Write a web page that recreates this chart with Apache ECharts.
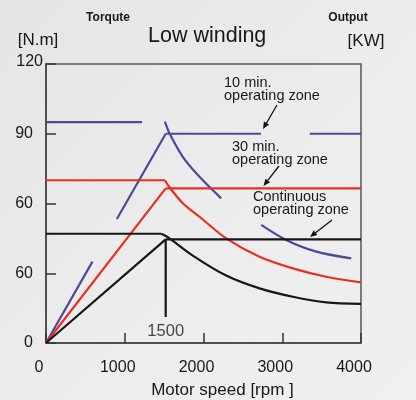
<!DOCTYPE html>
<html><head><meta charset="utf-8">
<script src="https://cdn.jsdelivr.net/npm/echarts@6/dist/echarts.min.js"></script>
<style>html,body{margin:0;padding:0;background:#ebebeb}#c{width:416px;height:400px}</style>
</head><body><div id="c"></div>
<script>
// ---- tick labels (as printed in the original, including its "60" at the 30 position)
const xTickLabels = ['0', '1000', '2000', '3000', '4000'];
const yTickLabels = ['0', '60', '60', '90', '120'];
const powerLabels = ['15kw', '11kw', '7.5kw'];
const speedMarkerLabel = '1500';

// ---- 10 min operating zone (blue)  [rpm, N.m]; null = gap in the drawn line
const blueLimitFlat = [[0, 95], [1220, 95]];
const blueRise = [[0, 0], [590, 35], null, [900, 53.3], [1520, 90]];
const blue15kw = [[1520, 90], [2730, 90], null, [3350, 90], [4000, 90]];
const blueFall = [[1510, 95.2], [1568, 90.2], [1737, 80.1], [1949, 71.5], [2225, 62.2], null,
                  [2733, 50.8], [3050, 44.3], [3431, 39.3], [3876, 36.4]];

// ---- 30 min operating zone (red)
const redLimitFlat = [[0, 70], [1510, 70]];
const redRise = [[0, 0], [1520, 66.5]];
const red11kw = [[1520, 66.5], [4000, 66.5]];
const redFall = [[1510, 70], [1568, 67], [1737, 60.1], [1949, 54.3], [2288, 45],
                 [2711, 37.1], [3134, 32.1], [3558, 28.5], [4000, 26.1]];

// ---- continuous operating zone (black)
const blackLimitFlat = [[0, 47], [1465, 47]];
const blackRise = [[0, 0], [1520, 44.6]];
const black7kw = [[1520, 44.6], [4000, 44.6]];
const blackFall = [[1465, 47], [1547, 45.5], [1864, 37.6], [2288, 29], [2711, 23.5], [3134, 19.9],
                   [3558, 17.5], [4000, 16.8]];
const speedMarker = [[1520, 44.6], [1520, 11.2]];

const BLUE = '#4a4a9c', RED = '#e8301f', BLACK = '#161616';
const FONT = 'Liberation Sans, Arial, sans-serif';
const INK = '#181818';

function split(pts) {
  const out = []; let cur = [];
  pts.forEach(p => { if (p === null) { if (cur.length) out.push(cur); cur = []; } else cur.push(p); });
  if (cur.length) out.push(cur);
  return out;
}
const series = [];
function addLine(pts, color, smooth, endLabel) {
  split(pts).forEach((seg, si, arr) => {
    const data = seg.map(p => ({ value: p }));
    if (endLabel && si === arr.length - 1) {
      data[data.length - 1].label = Object.assign({
        show: true, position: 'right', fontSize: 17, color: INK, fontFamily: FONT
      }, endLabel);
    }
    series.push({
      type: 'line', data, symbol: 'none', smooth: smooth ? 0.3 : false,
      lineStyle: { color, width: 2.2 }, silent: true, z: 3,
      label: { show: false }
    });
  });
}
addLine(blueLimitFlat, BLUE);
addLine(blueRise, BLUE);
addLine(blue15kw, BLUE, false, { formatter: powerLabels[0], distance: 7 });
addLine(blueFall, BLUE, true);
addLine(redLimitFlat, RED);
addLine(redRise, RED);
addLine(red11kw, RED, false, { formatter: powerLabels[1], distance: 7 });
addLine(redFall, RED, true);
addLine(blackLimitFlat, BLACK);
addLine(blackRise, BLACK);
addLine(black7kw, BLACK, false, { formatter: powerLabels[2], distance: 5, offset: [0, 2] });
addLine(blackFall, BLACK, true);
addLine(speedMarker, BLACK);
// "1500" label under the marker line
series.push({
  type: 'scatter', symbolSize: 1, itemStyle: { color: 'rgba(0,0,0,0)' }, silent: true,
  data: [{ value: speedMarker[1], label: { show: true, position: 'bottom', distance: 5,
    formatter: speedMarkerLabel, fontSize: 16.5, color: INK, fontFamily: FONT } }]
});

function arrow(x1, y1, x2, y2) {
  const a = Math.atan2(y2 - y1, x2 - x1), L = 7, W = 3;
  const bx = x2 - L * Math.cos(a), by = y2 - L * Math.sin(a);
  const px = -Math.sin(a) * W, py = Math.cos(a) * W;
  return [
    { type: 'line', shape: { x1, y1, x2: bx, y2: by }, style: { stroke: '#111', lineWidth: 1.3 }, z: 10 },
    { type: 'polygon', shape: { points: [[x2, y2], [bx + px, by + py], [bx - px, by - py]] },
      style: { fill: '#111' }, z: 10 }
  ];
}
function txt(text, x, y, size, opts) {
  return { type: 'text', x, y, z: 10, style: Object.assign({
    text, fill: INK, fontSize: size, fontFamily: FONT, align: 'left', verticalAlign: 'middle'
  }, opts || {}) };
}

const graphics = [
  txt('Torqute', 108, 18, 12, { fontWeight: 'bold', align: 'center' }),
  txt('Output', 348, 18, 12, { fontWeight: 'bold', align: 'center' }),
  txt('[N.m]', 38, 40, 17, { align: 'center' }),
  txt('[KW]', 366, 41, 17, { align: 'center' }),
  txt('10 min.\noperating zone', 224, 89, 14.5, { lineHeight: 13 }),
  txt('30 min.\noperating zone', 232, 153, 14.5, { lineHeight: 13 }),
  txt('Continuous\noperating zone', 253, 203, 14.5, { lineHeight: 13 }),
  ...arrow(277, 105, 263, 129),
  ...arrow(279, 166, 263.5, 186),
  ...arrow(332, 220, 310, 237)
];

const chart = echarts.init(document.getElementById('c'), null, { renderer: 'canvas' });
chart.setOption({
  backgroundColor: new echarts.graphic.LinearGradient(0, 0, 1, 1, [
    { offset: 0, color: '#e5e5e5' }, { offset: 0.5, color: '#ececec' }, { offset: 1, color: '#f0f0f0' }
  ]),
  animation: false,
  title: { text: 'Low winding', left: 143, top: 20,
    textStyle: { fontSize: 21.5, fontWeight: 'normal', color: INK, fontFamily: FONT } },
  grid: { left: 46, right: 55, top: 64, bottom: 57, show: true, borderColor: '#555', borderWidth: 1.5,
    backgroundColor: 'transparent', containLabel: false, outerBoundsMode: 'none' },
  xAxis: {
    type: 'value', min: 0, max: 4000, interval: 1000,
    axisLine: { show: true, lineStyle: { color: '#444', width: 1.5 } },
    axisTick: { show: true, inside: true, length: 10, lineStyle: { color: '#333', width: 1.5 } },
    splitLine: { show: false },
    axisLabel: { margin: 17, fontSize: 16, color: INK, fontFamily: FONT, padding: [0, 14, 0, 0],
      formatter: v => xTickLabels[Math.round(v / 1000)] },
    name: 'Motor speed [rpm ]', nameLocation: 'middle', nameGap: 39,
    nameTextStyle: { fontSize: 17, color: INK, fontFamily: FONT, padding: [0, 0, 0, 38] }
  },
  yAxis: {
    type: 'value', min: 0, max: 120, interval: 30,
    axisLine: { show: true, lineStyle: { color: '#444', width: 1.5 } },
    axisTick: { show: true, inside: true, length: 10, lineStyle: { color: '#333', width: 1.5 } },
    splitLine: { show: false },
    axisLabel: { margin: 3, fontSize: 16, color: INK, fontFamily: FONT,
      formatter: v => { const i = Math.round(v / 30); return i === 4 ? '{t|' + yTickLabels[i] + '}' : '{n|' + yTickLabels[i] + '}'; },
      rich: { n: { fontSize: 16, padding: [0, 10, 0, 0], color: INK, fontFamily: FONT },
              t: { fontSize: 16, padding: [0, 0, 5, 0], color: INK, fontFamily: FONT } } }
  },
  series,
  graphic: graphics
});
</script></body></html>
